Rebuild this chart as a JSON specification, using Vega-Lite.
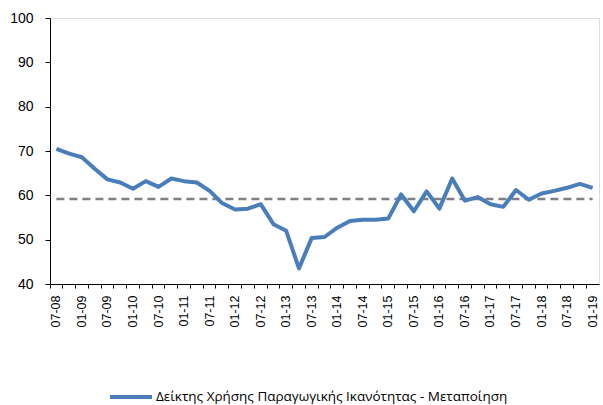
{
  "$schema": "https://vega.github.io/schema/vega-lite/v6.json",
  "autosize": "none",
  "width": 549,
  "height": 266,
  "padding": {"left": 50, "top": 18, "right": 4, "bottom": 121},
  "background": "white",
  "data": {
    "values": [
      {"q": "07-08", "v": 70.5, "avg": 59.2},
      {"q": "10-08", "v": 69.4, "avg": 59.2},
      {"q": "01-09", "v": 68.6, "avg": 59.2},
      {"q": "04-09", "v": 66.0, "avg": 59.2},
      {"q": "07-09", "v": 63.6, "avg": 59.2},
      {"q": "10-09", "v": 62.9, "avg": 59.2},
      {"q": "01-10", "v": 61.5, "avg": 59.2},
      {"q": "04-10", "v": 63.2, "avg": 59.2},
      {"q": "07-10", "v": 61.9, "avg": 59.2},
      {"q": "10-10", "v": 63.8, "avg": 59.2},
      {"q": "01-11", "v": 63.2, "avg": 59.2},
      {"q": "04-11", "v": 62.9, "avg": 59.2},
      {"q": "07-11", "v": 61.0, "avg": 59.2},
      {"q": "10-11", "v": 58.2, "avg": 59.2},
      {"q": "01-12", "v": 56.8, "avg": 59.2},
      {"q": "04-12", "v": 57.0, "avg": 59.2},
      {"q": "07-12", "v": 58.0, "avg": 59.2},
      {"q": "10-12", "v": 53.5, "avg": 59.2},
      {"q": "01-13", "v": 52.0, "avg": 59.2},
      {"q": "04-13", "v": 43.5, "avg": 59.2},
      {"q": "07-13", "v": 50.4, "avg": 59.2},
      {"q": "10-13", "v": 50.6, "avg": 59.2},
      {"q": "01-14", "v": 52.7, "avg": 59.2},
      {"q": "04-14", "v": 54.2, "avg": 59.2},
      {"q": "07-14", "v": 54.5, "avg": 59.2},
      {"q": "10-14", "v": 54.5, "avg": 59.2},
      {"q": "01-15", "v": 54.8, "avg": 59.2},
      {"q": "04-15", "v": 60.2, "avg": 59.2},
      {"q": "07-15", "v": 56.4, "avg": 59.2},
      {"q": "10-15", "v": 60.9, "avg": 59.2},
      {"q": "01-16", "v": 57.0, "avg": 59.2},
      {"q": "04-16", "v": 63.8, "avg": 59.2},
      {"q": "07-16", "v": 58.8, "avg": 59.2},
      {"q": "10-16", "v": 59.6, "avg": 59.2},
      {"q": "01-17", "v": 58.0, "avg": 59.2},
      {"q": "04-17", "v": 57.4, "avg": 59.2},
      {"q": "07-17", "v": 61.2, "avg": 59.2},
      {"q": "10-17", "v": 59.0, "avg": 59.2},
      {"q": "01-18", "v": 60.4, "avg": 59.2},
      {"q": "04-18", "v": 61.0, "avg": 59.2},
      {"q": "07-18", "v": 61.7, "avg": 59.2},
      {"q": "10-18", "v": 62.6, "avg": 59.2},
      {"q": "01-19", "v": 61.7, "avg": 59.2}
    ]
  },
  "encoding": {
    "x": {
      "field": "q",
      "type": "ordinal",
      "sort": null,
      "scale": {"type": "band", "paddingInner": 0, "paddingOuter": 0},
      "axis": {
        "title": null,
        "bandPosition": 0,
        "labelAngle": -90,
        "labelFont": "Liberation Sans",
        "labelFontSize": 12.5,
        "labelColor": "#000000",
        "labelPadding": 7,
        "labelExpr": "(substring(datum.value,0,2)=='01' || substring(datum.value,0,2)=='07') ? datum.value : ''",
        "tickSize": 4,
        "tickColor": "#000000",
        "domainColor": "#000000",
        "domainWidth": 1,
        "grid": false
      }
    }
  },
  "layer": [
    {
      "mark": {"type": "line", "color": "#808080", "strokeWidth": 2.5, "strokeDash": [8, 5]},
      "encoding": {
        "y": {"field": "avg", "type": "quantitative"}
      }
    },
    {
      "mark": {"type": "line", "strokeWidth": 4, "strokeJoin": "round"},
      "encoding": {
        "y": {
          "field": "v",
          "type": "quantitative",
          "scale": {"domain": [40, 100], "nice": false, "zero": false},
          "axis": {
            "title": null,
            "values": [40, 50, 60, 70, 80, 90, 100],
            "grid": false,
            "labelFont": "Liberation Sans",
            "labelFontSize": 14,
            "labelColor": "#000000",
            "labelPadding": 12,
            "tickSize": 5,
            "tickColor": "#000000",
            "domainColor": "#000000"
          }
        },
        "color": {
          "datum": "Δείκτης Χρήσης Παραγωγικής Ικανότητας - Μεταποίηση",
          "type": "nominal",
          "scale": {"range": ["#4A7EBB"]},
          "legend": {
            "title": null,
            "orient": "none",
            "legendX": 58,
            "legendY": 356,
            "symbolType": "stroke",
            "symbolStrokeWidth": 4,
            "symbolSize": 1764,
            "labelFont": "Open Sans",
            "labelFontSize": 13.5,
            "labelColor": "#000000",
            "labelOffset": 2,
            "labelLimit": 0
          }
        }
      }
    }
  ]
}
